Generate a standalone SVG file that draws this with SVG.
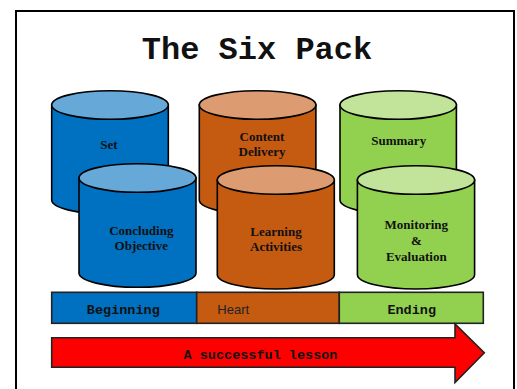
<svg xmlns="http://www.w3.org/2000/svg" width="517" height="389" viewBox="0 0 517 389">
<style>
.cyl{stroke:#000;stroke-width:1.6}
.blue{fill:#0070C0}.blueTop{fill:#66A8D8}
.orange{fill:#C55A11}.orangeTop{fill:#DC9B70}
.green{fill:#92D050}.greenTop{fill:#C1E39A}
.lbl{font-family:"Liberation Serif","Times New Roman",serif;font-weight:bold;font-size:13px;fill:#111;text-anchor:middle}
.mono{font-family:"Liberation Mono","Courier New",monospace;font-weight:bold;fill:#111}
.bar{stroke:#222;stroke-width:1.6}
</style>
<rect x="0" y="0" width="517" height="389" fill="#fff"/>
<rect x="16" y="11" width="498" height="390" fill="#fff" stroke="#000" stroke-width="2"/>
<text x="257" y="59" class="mono" font-size="32" text-anchor="middle">The Six Pack</text>

<g id="set">
<path class="cyl blue" d="M51.7,105 V200 A58.3,14.3 0 0 0 168.3,200 V105 Z"/>
<ellipse class="cyl blueTop" cx="110" cy="105" rx="58.3" ry="14.3"/>
<text class="lbl" x="109" y="149">Set</text>
</g>
<g id="content-delivery">
<path class="cyl orange" d="M199.3,105 V200 A58.3,14.3 0 0 0 315.9,200 V105 Z"/>
<ellipse class="cyl orangeTop" cx="257.6" cy="105" rx="58.3" ry="14.3"/>
<text class="lbl" x="262" y="141">Content</text>
<text class="lbl" x="262" y="156">Delivery</text>
</g>
<g id="summary">
<path class="cyl green" d="M340,105 V200 A58.2,14.3 0 0 0 456.4,200 V105 Z"/>
<ellipse class="cyl greenTop" cx="398.2" cy="105" rx="58.2" ry="14.3"/>
<text class="lbl" x="398.7" y="145">Summary</text>
</g>
<g id="concluding-objective">
<path class="cyl blue" d="M79,178 V273 A58.5,14.3 0 0 0 196,273 V178 Z"/>
<ellipse class="cyl blueTop" cx="137.5" cy="178" rx="58.5" ry="14.3"/>
<text class="lbl" x="141.3" y="235">Concluding</text>
<text class="lbl" x="141.3" y="249.5">Objective</text>
</g>
<g id="learning-activities">
<path class="cyl orange" d="M217.3,180 V274.7 A58.5,14.3 0 0 0 334.3,274.7 V180 Z"/>
<ellipse class="cyl orangeTop" cx="275.8" cy="180" rx="58.5" ry="14.3"/>
<text class="lbl" x="276" y="236">Learning</text>
<text class="lbl" x="276" y="250.7">Activities</text>
</g>
<g id="monitoring-evaluation">
<path class="cyl green" d="M357.4,180 V274.7 A58.6,14.3 0 0 0 474.6,274.7 V180 Z"/>
<ellipse class="cyl greenTop" cx="416" cy="180" rx="58.6" ry="14.3"/>
<text class="lbl" x="416.3" y="229.3">Monitoring</text>
<text class="lbl" x="416.3" y="244.5">&amp;</text>
<text class="lbl" x="416.3" y="260.5">Evaluation</text>
</g>

<g id="phase-bar">
<rect class="bar blue" x="51.7" y="292.3" width="145" height="31"/>
<rect class="bar orange" x="196.7" y="292.3" width="142.6" height="31"/>
<rect class="bar green" x="339.3" y="292.3" width="144" height="31"/>
<text class="mono" x="123.3" y="314" font-size="13.5" text-anchor="middle">Beginning</text>
<text x="217.3" y="314" font-family="Liberation Sans, Arial, sans-serif" font-size="13" fill="#222">Heart</text>
<text class="mono" x="411.7" y="314" font-size="13.5" text-anchor="middle">Ending</text>
</g>

<g id="arrow">
<path d="M51.7,337.7 H455 V324 L484.3,352.7 L455,382.5 V367.3 H51.7 Z" fill="#FF0000" stroke="#222" stroke-width="1.6" stroke-linejoin="miter"/>
<text class="mono" x="260.5" y="358.5" font-size="13.5" text-anchor="middle">A successful lesson</text>
</g>
</svg>
